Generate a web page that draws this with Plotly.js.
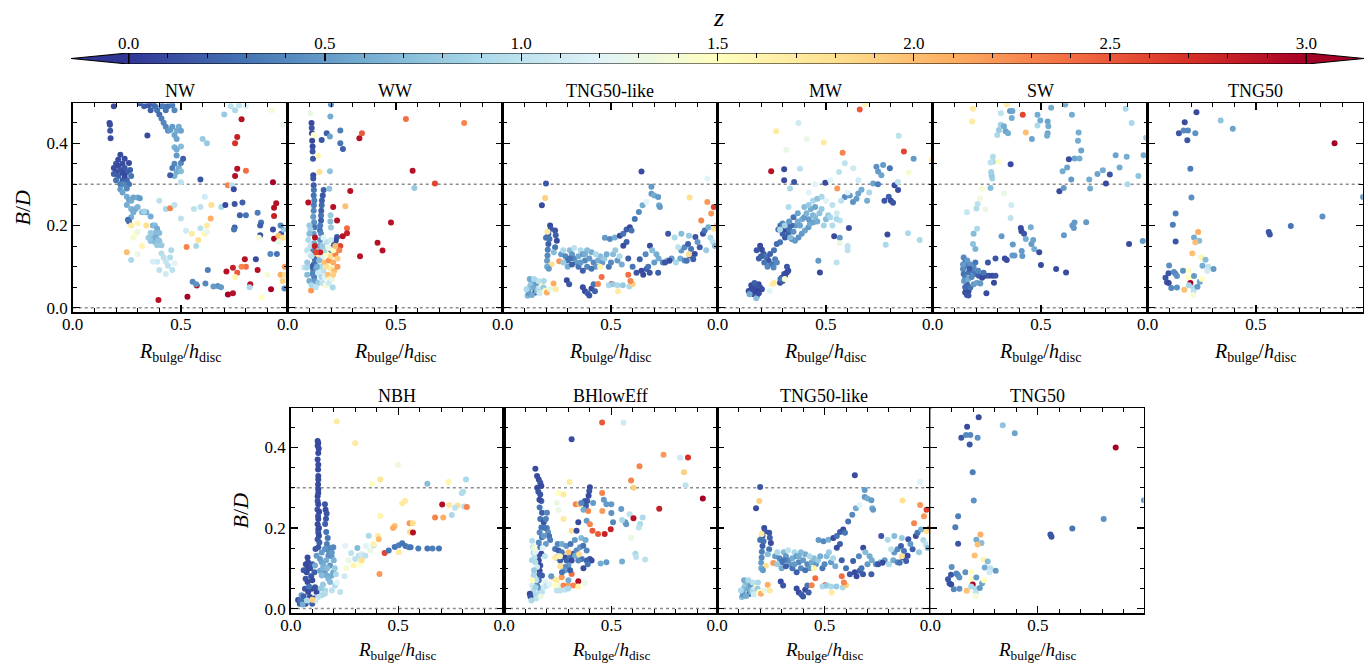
<!DOCTYPE html>
<html><head><meta charset="utf-8">
<script src="https://cdn.plot.ly/plotly-3.0.1.min.js"></script>
<style>html,body{margin:0;padding:0;background:#fff}</style>
</head><body><div id="chart" style="width:1368px;height:666px"></div>
<script>
// Each point: [R_bulge/h_disc, B/D, z]
const NW = [[0.17,0.449,0.1],[0.172,0.445,0.1],[0.173,0.43,0.15],[0.175,0.412,0.1],[0.19,0.49,0.1],
[0.19,0.34,0.1],[0.2,0.35,0.15],[0.2,0.33,0.1],[0.21,0.32,0.2],[0.21,0.36,0.1],[0.22,0.372,0.1],[0.22,0.335,0.15],[0.23,0.31,0.2],[0.23,0.35,0.1],[0.24,0.34,0.15],[0.24,0.362,0.1],[0.25,0.33,0.2],[0.25,0.31,0.25],[0.26,0.352,0.1],[0.26,0.30,0.3],[0.2,0.31,0.3],[0.22,0.30,0.35],[0.24,0.32,0.1],[0.25,0.29,0.4],[0.27,0.32,0.3],[0.21,0.345,0.1],[0.23,0.328,0.1],[0.235,0.3,0.4],[0.19,0.325,0.2],[0.265,0.335,0.2],
[0.22,0.288,0.5],[0.23,0.28,0.55],[0.25,0.27,0.6],[0.26,0.262,0.55],[0.27,0.26,0.6],[0.28,0.268,0.55],[0.3,0.268,0.6],[0.31,0.266,0.5],[0.25,0.25,0.6],[0.27,0.24,0.65],[0.28,0.232,0.6],[0.27,0.22,0.6],[0.26,0.21,0.25],[0.255,0.214,0.3],[0.29,0.24,0.6],[0.3,0.245,0.65],[0.32,0.232,0.7],[0.34,0.232,0.6],[0.36,0.222,0.6],[0.37,0.2,0.65],[0.38,0.2,0.7],[0.39,0.192,0.6],[0.38,0.182,0.7],[0.37,0.172,0.7],[0.36,0.162,0.75],[0.38,0.16,0.7],[0.39,0.152,0.8],[0.4,0.162,0.75],[0.41,0.152,0.8],[0.36,0.182,0.8],[0.4,0.182,0.7],[0.385,0.17,0.6],[0.395,0.165,0.75],[0.35,0.17,0.8],
[0.41,0.132,0.95],[0.42,0.122,1.0],[0.43,0.112,1.05],[0.44,0.102,1.0],[0.45,0.122,0.95],[0.39,0.112,1.1],[0.37,0.112,1.15],[0.4,0.092,1.0],[0.43,0.082,1.1],[0.46,0.092,1.0],[0.47,0.108,1.2],[0.455,0.14,0.9],
[0.27,0.2,1.7],[0.29,0.18,1.5],[0.3,0.185,1.3],[0.25,0.135,2.0],[0.27,0.116,0.9],[0.33,0.234,0.85],[0.3,0.205,1.6],[0.34,0.2,1.8],[0.28,0.17,1.4],[0.3,0.13,1.3],[0.32,0.15,1.6],
[0.31,0.497,0.15],[0.33,0.49,0.2],[0.35,0.492,0.15],[0.37,0.495,0.2],[0.38,0.49,0.25],[0.39,0.48,0.3],[0.4,0.47,0.25],[0.41,0.49,0.3],[0.42,0.49,0.35],[0.43,0.48,0.3],[0.41,0.46,0.35],[0.42,0.45,0.4],[0.43,0.44,0.4],[0.44,0.43,0.45],[0.45,0.432,0.5],[0.46,0.44,0.5],[0.47,0.42,0.55],[0.44,0.49,0.3],[0.46,0.492,0.35],[0.47,0.48,0.4],[0.36,0.48,0.2],
[0.48,0.43,0.6],[0.48,0.41,0.55],[0.47,0.39,0.65],[0.48,0.385,0.6],[0.5,0.392,0.7],[0.48,0.37,0.5],[0.47,0.35,0.4],[0.46,0.34,0.35],[0.48,0.33,0.6],[0.47,0.32,0.65],[0.49,0.34,0.6],[0.5,0.352,0.4],[0.51,0.362,0.2],[0.5,0.332,0.7],[0.45,0.322,0.2],[0.49,0.44,0.6],[0.5,0.43,0.55],
[0.345,0.419,0.1],[0.6,0.41,0.8],[0.62,0.40,0.8],[0.59,0.312,0.15],[0.5,0.305,1.0],
[0.4,0.26,1.0],[0.43,0.24,0.9],[0.45,0.242,2.3],[0.47,0.25,1.0],[0.5,0.217,1.0],[0.523,0.187,1.1],[0.55,0.18,1.7],[0.59,0.193,1.0],[0.58,0.165,1.8],[0.62,0.2,1.7],[0.526,0.148,2.3],[0.57,0.15,0.9],[0.686,0.245,0.9],[0.64,0.25,1.8],[0.637,0.217,2.1],[0.59,0.245,1.0],[0.61,0.27,1.1],[0.56,0.24,1.0],[0.61,0.18,1.6],[0.62,0.185,1.3],
[0.78,0.458,2.9],[0.76,0.415,2.8],[0.75,0.40,2.7],[0.76,0.338,2.9],[0.75,0.32,2.9],[0.80,0.333,2.4],[0.925,0.305,3.0],[0.94,0.254,2.9],[0.93,0.243,2.9],[0.93,0.223,2.8],[0.93,0.168,3.0],[0.396,0.019,2.9],[0.53,0.027,3.0],[0.573,0.054,2.9],[0.71,0.088,2.9],[0.74,0.097,2.8],[0.76,0.085,2.5],[0.717,0.032,3.0],[0.74,0.035,2.9],[0.795,0.118,2.9],[0.82,0.057,2.9],[0.80,0.1,2.4],[0.854,0.092,2.9],[0.916,0.045,3.0],[0.717,0.298,2.3],[0.735,0.298,1.0],
[0.744,0.288,0.1],[0.748,0.252,0.15],[0.784,0.256,0.2],[0.772,0.225,0.2],[0.80,0.225,0.3],[0.705,0.25,0.1],[0.748,0.195,0.2],[0.745,0.19,0.3],[0.854,0.231,0.35],[0.87,0.207,0.3],[0.866,0.2,0.2],[0.866,0.176,0.15],[0.925,0.19,0.1],[0.963,0.18,0.2],[0.975,0.19,0.8],[0.913,0.131,0.4],[0.943,0.131,0.3],[0.846,0.118,0.1],[0.624,0.092,0.35],[0.554,0.063,0.4],[0.57,0.057,0.45],[0.613,0.059,0.4],[0.67,0.053,0.45],[0.685,0.05,0.5],[0.65,0.052,0.5],[0.817,0.05,0.9],[0.978,0.047,0.4],[0.96,0.2,0.4],
[0.73,0.49,1.0],[0.768,0.492,1.0],[0.75,0.48,0.9],[0.70,0.47,0.8],[0.8,0.49,1.2],[0.92,0.48,1.4],[0.97,0.445,1.3],[0.99,0.5,1.1],[0.86,0.17,1.4],[0.95,0.175,2.0],[0.97,0.17,1.8],[0.96,0.08,2.1],[0.97,0.065,1.9],[0.98,0.1,2.2],[0.98,0.08,1.8],[0.78,0.1,2.3],[0.75,0.075,1.6],[0.873,0.025,1.5],[0.9,0.08,1.4],[0.95,0.16,1.3],[0.99,0.17,1.7]];

const WW = [[0.11,0.449,0.1],[0.111,0.437,0.15],[0.112,0.424,0.1],[0.113,0.406,0.1],[0.115,0.392,0.1],[0.115,0.38,0.15],[0.117,0.362,0.15],[0.118,0.322,0.1],[0.118,0.314,0.15],[0.12,0.298,0.2],[0.121,0.286,0.3],[0.12,0.273,0.3],[0.123,0.261,0.35],[0.121,0.249,0.35],[0.12,0.236,0.4],[0.118,0.221,0.5],[0.122,0.208,0.45],[0.124,0.196,0.3],[0.12,0.18,0.5],[0.122,0.157,0.6],[0.118,0.14,0.4],[0.125,0.12,0.2],[0.12,0.105,0.25],[0.118,0.09,0.3],[0.122,0.075,0.35],[0.125,0.065,0.5],[0.115,0.082,0.4],[0.113,0.1,0.2],[0.127,0.112,0.3],[0.13,0.095,0.45],
[0.105,0.473,1.3],[0.12,0.42,1.5],[0.14,0.37,1.6],[0.146,0.33,1.8],[0.1,0.2,0.8],[0.105,0.19,0.85],[0.1,0.18,0.7],[0.095,0.165,0.9],[0.09,0.14,1.0],[0.105,0.15,1.0],[0.1,0.13,1.2],[0.11,0.125,1.0],[0.09,0.11,0.8],
[0.166,0.286,0.2],[0.162,0.273,0.15],[0.158,0.261,0.2],[0.157,0.249,0.25],[0.155,0.236,0.2],[0.154,0.224,0.3],[0.154,0.212,0.2],[0.15,0.2,0.35],[0.149,0.188,0.3],[0.154,0.18,0.4],[0.15,0.165,0.5],[0.145,0.15,0.6],[0.14,0.135,0.7],
[0.157,0.408,0.15],[0.18,0.424,0.2],[0.197,0.465,0.6],[0.195,0.416,0.55],[0.2,0.494,0.45],[0.243,0.431,0.35],[0.243,0.4,0.3],[0.255,0.386,0.2],[0.195,0.332,0.75],[0.192,0.289,0.75],[0.198,0.225,0.8],[0.2,0.195,0.8],[0.197,0.21,0.7],
[0.331,0.412,2.9],[0.343,0.424,2.5],[0.546,0.459,2.4],[0.815,0.449,2.3],[0.577,0.333,2.9],[0.68,0.302,2.6],[0.585,0.291,0.8],[0.289,0.284,2.9],[0.21,0.245,2.9],[0.095,0.256,2.9],[0.266,0.247,2.0],[0.228,0.212,2.9],[0.477,0.207,2.9],[0.274,0.193,2.4],[0.274,0.181,2.8],[0.254,0.174,2.9],[0.415,0.158,2.9],[0.438,0.139,2.9],[0.334,0.125,2.9],[0.126,0.171,2.9],[0.125,0.15,2.8],[0.243,0.15,2.6],[0.238,0.14,2.3],
[0.228,0.172,0.15],[0.222,0.163,0.1],[0.215,0.155,0.15],[0.208,0.147,0.2],[0.2,0.14,0.3],
[0.14,0.13,1.7],[0.15,0.12,1.9],[0.16,0.125,1.2],[0.17,0.11,2.0],[0.18,0.13,1.5],[0.19,0.115,2.2],[0.2,0.125,1.8],[0.21,0.11,2.1],[0.22,0.13,2.3],[0.23,0.12,1.9],[0.15,0.1,0.9],[0.165,0.09,1.0],[0.18,0.1,1.8],[0.2,0.095,1.7],[0.215,0.09,2.0],[0.14,0.085,1.1],[0.155,0.075,0.9],[0.17,0.075,1.2],[0.185,0.08,2.0],[0.195,0.07,1.6],[0.14,0.06,0.8],[0.16,0.06,1.0],[0.175,0.055,1.4],[0.19,0.06,1.1],[0.205,0.07,1.3],[0.135,0.1,0.6],[0.145,0.115,0.7],[0.17,0.14,0.9],[0.19,0.145,1.3],[0.21,0.14,1.5],[0.16,0.15,0.8],[0.18,0.16,1.0],[0.165,0.17,1.2],[0.2,0.165,1.1],[0.22,0.15,2.0],[0.15,0.135,2.8],[0.13,0.135,2.6],[0.23,0.1,2.2],[0.21,0.08,1.9],
[0.108,0.042,2.2],[0.208,0.049,0.9],[0.077,0.098,1.0],[0.09,0.098,0.9],[0.09,0.08,0.7],[0.1,0.065,0.6],[0.11,0.055,0.9],[0.13,0.05,1.0]];

const TNG50LIKE = [[0.115,0.029,0.7],[0.12,0.041,0.6],[0.127,0.053,0.7],[0.132,0.061,0.8],[0.143,0.049,0.6],[0.15,0.037,0.15],[0.158,0.041,0.7],[0.166,0.045,0.9],[0.173,0.053,1.1],[0.18,0.059,1.5],[0.188,0.049,0.8],[0.196,0.041,1.5],[0.204,0.037,2.1],[0.219,0.045,1.3],[0.235,0.059,2.1],[0.245,0.045,1.7],[0.12,0.034,0.5],[0.135,0.031,0.6],[0.11,0.045,0.9],[0.14,0.065,0.7],[0.155,0.06,0.5],[0.165,0.065,1.0],[0.125,0.07,0.6],[0.145,0.07,0.9],[0.17,0.035,1.1],[0.19,0.065,0.9],
[0.219,0.2,0.1],[0.222,0.192,0.15],[0.211,0.18,0.2],[0.216,0.167,0.3],[0.211,0.155,0.2],[0.208,0.141,0.35],[0.207,0.127,0.4],[0.205,0.114,0.5],[0.242,0.188,0.15],[0.245,0.176,0.2],[0.25,0.163,0.1],[0.242,0.147,0.3],[0.236,0.135,0.7],[0.226,0.106,1.8],[0.261,0.113,2.2],[0.207,0.185,1.7],[0.2,0.17,0.3],[0.205,0.1,0.6],[0.213,0.095,0.5],
[0.2,0.302,0.15],[0.196,0.267,1.9],[0.181,0.249,0.1],
[0.27,0.13,0.5],[0.28,0.14,0.9],[0.29,0.125,0.4],[0.3,0.115,0.3],[0.31,0.14,0.7],[0.32,0.13,0.5],[0.33,0.12,0.4],[0.34,0.11,0.5],[0.35,0.125,0.6],[0.36,0.14,0.9],[0.37,0.13,0.5],[0.38,0.115,0.4],[0.39,0.1,0.4],[0.4,0.12,0.5],[0.41,0.135,0.6],[0.42,0.11,0.4],[0.43,0.1,0.5],[0.44,0.115,0.6],[0.45,0.125,0.7],[0.46,0.11,0.5],[0.47,0.12,0.8],[0.48,0.13,0.6],[0.49,0.1,0.3],[0.5,0.11,0.4],[0.51,0.13,0.7],[0.52,0.14,0.8],[0.53,0.115,0.5],[0.54,0.125,0.9],[0.55,0.105,0.6],[0.58,0.12,0.2],[0.6,0.1,0.3],[0.3,0.1,0.6],[0.33,0.145,1.0],[0.35,0.1,0.3],[0.37,0.09,0.2],[0.39,0.14,0.7],[0.43,0.13,0.9],[0.28,0.11,0.8],[0.32,0.105,0.2],[0.41,0.095,0.3],[0.45,0.1,1.6],[0.36,0.11,0.5],[0.38,0.13,0.6],[0.31,0.12,0.3],
[0.296,0.067,0.1],[0.307,0.057,0.15],[0.38,0.04,0.1],[0.392,0.035,0.2],[0.41,0.047,0.1],[0.42,0.057,0.3],[0.426,0.04,0.2],[0.37,0.05,0.1],[0.4,0.03,0.15],
[0.457,0.075,2.4],[0.44,0.058,2.3],[0.503,0.058,2.6],[0.533,0.04,1.7],[0.49,0.055,0.9],[0.51,0.057,0.8],[0.53,0.055,0.9],[0.555,0.055,0.8],[0.585,0.052,0.9],[0.6,0.058,1.9],[0.59,0.065,2.3],[0.58,0.08,2.4],
[0.472,0.17,0.5],[0.495,0.167,0.4],[0.518,0.171,0.6],[0.541,0.175,0.1],[0.557,0.18,0.3],[0.572,0.19,0.2],[0.587,0.196,0.1],[0.595,0.188,0.3],[0.572,0.16,0.2],[0.557,0.151,0.1],[0.61,0.216,0.3],[0.629,0.233,0.4],[0.646,0.249,0.6],[0.664,0.257,1.2],[0.687,0.277,0.5],[0.7,0.273,0.6],[0.718,0.269,0.5],[0.722,0.249,0.6],[0.726,0.245,0.5],[0.687,0.294,0.5],[0.641,0.331,0.1],
[0.618,0.085,0.15],[0.641,0.09,0.1],[0.664,0.094,0.2],[0.679,0.085,0.15],[0.649,0.08,0.1],[0.672,0.1,0.3],[0.633,0.118,0.2],[0.718,0.085,0.2],[0.7,0.11,0.5],[0.72,0.12,0.6],[0.74,0.11,0.4],[0.76,0.115,0.7],[0.78,0.12,0.5],[0.68,0.151,0.1],[0.77,0.114,0.1],[0.75,0.11,0.15],[0.8,0.11,0.9],[0.82,0.12,0.6],[0.84,0.115,0.4],[0.66,0.13,0.4],[0.69,0.14,0.7],[0.71,0.13,0.6],
[0.825,0.139,0.5],[0.84,0.147,0.4],[0.856,0.155,0.2],[0.87,0.143,0.3],[0.887,0.131,0.1],[0.88,0.118,0.2],[0.864,0.127,0.15],[0.85,0.114,0.3],[0.91,0.147,0.2],[0.925,0.18,0.1],[0.89,0.172,0.15],[0.933,0.188,0.3],[0.95,0.196,0.6],[0.96,0.17,0.9],[0.97,0.16,1.0],[0.98,0.15,0.7],[0.94,0.14,0.8],[0.9,0.16,0.5],[0.86,0.13,1.8],
[0.794,0.171,0.9],[0.825,0.18,0.7],[0.764,0.18,0.15],[0.81,0.147,1.0],[0.86,0.175,0.8],
[0.863,0.268,1.8],[0.945,0.257,2.2],[0.917,0.212,2.3],[0.963,0.229,2.2],[0.975,0.245,2.6],[0.945,0.314,1.2],[0.975,0.192,1.8],[0.99,0.2,2.0]];

const MW = [[0.143,0.041,0.1],[0.158,0.049,0.1],[0.173,0.053,0.15],[0.189,0.057,0.1],[0.196,0.049,0.15],[0.166,0.033,0.1],[0.181,0.029,0.15],[0.15,0.037,0.2],[0.204,0.045,0.1],[0.18,0.041,0.05],[0.163,0.045,0.1],[0.147,0.033,0.6],[0.178,0.023,0.7],[0.155,0.055,0.1],[0.17,0.06,0.2],[0.19,0.035,0.1],
[0.25,0.057,1.6],[0.24,0.041,1.2],[0.26,0.06,1.7],
[0.288,0.061,0.1],[0.296,0.073,0.1],[0.307,0.082,0.15],[0.319,0.086,0.1],[0.326,0.09,0.1],[0.3,0.065,0.2],[0.311,0.078,0.1],[0.32,0.1,0.15],[0.29,0.07,0.3],
[0.196,0.151,0.1],[0.204,0.141,0.1],[0.212,0.131,0.15],[0.227,0.122,0.2],[0.235,0.114,0.15],[0.25,0.106,0.3],[0.258,0.098,0.4],[0.219,0.125,0.3],[0.242,0.131,0.2],[0.265,0.118,0.35],[0.273,0.11,0.4],[0.2,0.125,0.2],[0.215,0.11,0.3],[0.23,0.1,0.4],[0.26,0.14,0.3],[0.18,0.14,0.15],[0.19,0.12,0.2],
[0.273,0.155,0.25],[0.288,0.159,0.3],[0.311,0.171,0.15],[0.326,0.18,0.2],[0.342,0.167,0.4],[0.357,0.163,0.5],[0.373,0.171,0.45],[0.388,0.18,0.5],[0.403,0.188,0.55],[0.419,0.196,0.5],[0.426,0.204,0.6],[0.442,0.208,0.55],[0.3,0.18,0.2],[0.31,0.19,0.1],[0.32,0.2,0.15],[0.33,0.19,0.3],[0.35,0.185,0.45],[0.36,0.2,0.5],[0.37,0.21,0.6],[0.38,0.2,0.55],[0.39,0.215,0.6],[0.4,0.22,0.5],[0.41,0.23,0.65],[0.42,0.215,0.5],[0.43,0.24,0.6],[0.44,0.225,0.65],[0.45,0.22,0.7],[0.46,0.21,0.6],[0.47,0.23,0.75],[0.48,0.24,0.8],[0.49,0.2,0.85],[0.5,0.215,0.7],[0.51,0.225,0.8],[0.52,0.22,0.9],[0.53,0.2,0.95],[0.35,0.22,0.3],[0.34,0.2,0.25],[0.28,0.19,0.3],[0.29,0.2,0.2],[0.3,0.205,0.4],[0.33,0.21,0.5],[0.37,0.23,0.55],[0.4,0.245,0.7],[0.42,0.25,0.8],[0.44,0.26,0.9],[0.45,0.245,0.55],[0.46,0.265,0.75],
[0.288,0.19,0.9],[0.31,0.2,0.85],[0.335,0.171,0.7],
[0.564,0.212,1.0],[0.549,0.216,0.9],[0.587,0.269,0.4],[0.61,0.273,0.5],[0.625,0.257,0.45],[0.641,0.265,0.5],[0.649,0.278,0.55],[0.664,0.287,0.6],[0.718,0.302,0.55],[0.733,0.343,0.45],[0.741,0.331,0.5],[0.756,0.322,0.55],[0.764,0.347,0.5],[0.77,0.26,0.15],[0.79,0.27,0.2],[0.8,0.26,0.1],[0.81,0.255,0.15],[0.817,0.298,0.1],[0.833,0.286,0.1],[0.795,0.339,0.3],[0.57,0.26,1.0],[0.6,0.28,1.2],[0.7,0.28,0.9],[0.69,0.26,0.6],[0.74,0.3,0.35],[0.55,0.23,1.1],[0.53,0.25,1.0],[0.5,0.26,1.2],[0.48,0.27,0.9],
[0.373,0.449,1.1],[0.317,0.384,1.3],[0.411,0.41,1.3],[0.27,0.429,1.7],[0.49,0.402,1.7],[0.577,0.377,2.3],[0.656,0.482,2.5],[0.86,0.38,2.6],[0.247,0.332,2.9],[0.307,0.337,0.1],[0.307,0.31,0.1],[0.353,0.306,0.15],[0.497,0.304,0.1],[0.552,0.29,2.2],[0.38,0.338,1.0],[0.334,0.29,0.9],[0.327,0.245,0.95],[0.587,0.351,1.0],[0.626,0.339,1.1],[0.905,0.362,0.5],[0.836,0.418,1.0],[0.882,0.329,1.4],[0.832,0.306,1.0],[0.45,0.3,1.2],[0.52,0.31,1.2],[0.56,0.33,1.0],[0.65,0.31,1.1],[0.42,0.28,1.2],[0.99,0.36,1.7],[0.68,0.495,1.6],
[0.606,0.194,0.1],[0.784,0.178,0.1],[0.776,0.153,0.9],[0.879,0.181,0.9],[0.933,0.165,0.9],[0.6,0.14,1.0],[0.549,0.11,1.0],[0.465,0.114,0.5],[0.472,0.086,0.1],[0.538,0.174,0.1],[0.564,0.17,0.5],[0.564,0.157,1.3],[0.6,0.15,1.0],[0.31,0.07,1.4]];

const SW = [[0.143,0.122,0.4],[0.15,0.11,0.3],[0.158,0.102,0.35],[0.14,0.094,0.4],[0.143,0.082,0.3],[0.15,0.073,0.35],[0.166,0.086,0.3],[0.182,0.09,0.35],[0.197,0.082,0.3],[0.213,0.078,0.2],[0.228,0.073,0.1],[0.244,0.078,0.1],[0.259,0.078,0.15],[0.275,0.078,0.1],[0.29,0.078,0.15],[0.283,0.061,0.1],[0.158,0.057,0.2],[0.155,0.045,0.1],[0.15,0.037,0.1],[0.158,0.031,0.15],[0.166,0.041,0.1],[0.174,0.049,0.3],[0.189,0.057,0.5],[0.205,0.061,0.55],[0.22,0.059,0.5],[0.248,0.035,0.1],[0.197,0.110,0.3],[0.189,0.098,0.4],[0.255,0.11,0.15],[0.29,0.12,0.15],[0.342,0.116,0.1],[0.16,0.115,0.5],[0.175,0.105,0.45],[0.17,0.095,0.2],[0.21,0.09,0.4],[0.235,0.085,0.3],[0.145,0.065,0.5],[0.165,0.07,0.6],[0.18,0.075,0.4],[0.14,0.105,0.5],[0.15,0.05,0.25],[0.165,0.03,0.15],
[0.189,0.18,0.7],[0.186,0.155,0.75],[0.197,0.143,0.65],[0.205,0.192,0.9],[0.208,0.253,1.0],[0.202,0.241,0.95],[0.158,0.232,1.05],[0.244,0.239,1.3],[0.218,0.265,1.35],[0.228,0.29,1.4],[0.267,0.291,0.7],[0.275,0.314,0.85],[0.272,0.322,0.8],[0.27,0.33,0.85],[0.278,0.355,0.9],[0.278,0.367,0.95],[0.267,0.353,1.0],[0.306,0.355,1.5],[0.329,0.278,1.3],[0.363,0.25,1.1],[0.36,0.218,1.0],
[0.298,0.42,0.9],[0.306,0.432,0.8],[0.314,0.445,0.85],[0.329,0.441,0.6],[0.337,0.429,0.55],[0.348,0.424,0.6],[0.357,0.478,0.5],[0.365,0.461,0.6],[0.368,0.478,0.55],[0.315,0.473,1.0],[0.186,0.484,1.7],[0.182,0.453,1.7],[0.342,0.494,1.7],[0.416,0.469,2.6],[0.43,0.426,2.0],[0.458,0.41,0.55],[0.484,0.469,0.6],[0.497,0.455,0.6],[0.484,0.443,0.9],[0.531,0.453,0.55],[0.534,0.441,0.6],[0.531,0.424,0.55],[0.528,0.418,0.6],[0.547,0.486,0.6],[0.612,0.494,0.6],[0.643,0.469,0.6],[0.674,0.426,0.6],[0.671,0.406,0.6],[0.686,0.382,0.55],[0.655,0.363,0.55],[0.678,0.363,0.6],[0.629,0.361,0.1],[0.6,0.332,0.6],[0.621,0.341,0.55],[0.64,0.312,0.5],[0.585,0.283,0.1],[0.605,0.291,0.5],[0.723,0.312,0.6],[0.727,0.29,0.6],[0.761,0.325,0.55],[0.786,0.334,0.6],[0.818,0.324,0.15],[0.8,0.302,0.1],[0.845,0.371,0.55],[0.863,0.341,0.6],[0.896,0.367,0.6],[0.95,0.32,0.75],[0.974,0.371,0.6],[0.986,0.413,0.8],[0.919,0.449,0.9],[0.891,0.484,0.9],[0.9,0.3,0.9],
[0.36,0.349,0.1],[0.407,0.194,0.1],[0.41,0.186,0.1],[0.422,0.18,0.15],[0.43,0.167,0.6],[0.453,0.196,0.6],[0.456,0.155,0.5],[0.464,0.165,0.55],[0.469,0.143,0.6],[0.492,0.135,0.1],[0.5,0.104,0.1],[0.57,0.094,0.1],[0.616,0.086,0.1],[0.606,0.176,0.5],[0.645,0.2,0.5],[0.655,0.207,0.5],[0.652,0.194,0.5],[0.709,0.208,0.5],[0.907,0.155,0.1],[0.97,0.162,0.5],[0.37,0.154,0.5],[0.318,0.174,0.5],[0.368,0.127,0.5],[0.378,0.127,0.5],[0.411,0.138,0.5],[0.414,0.126,0.5],[0.333,0.12,0.1]];

const TNG50 = [[0.225,0.475,0.1],[0.171,0.451,0.1],[0.144,0.424,0.15],[0.166,0.431,0.4],[0.186,0.431,0.4],[0.22,0.424,0.45],[0.183,0.407,0.15],[0.197,0.338,0.35],[0.202,0.268,0.45],[0.129,0.229,0.35],[0.116,0.202,0.35],[0.129,0.161,0.15],[0.337,0.455,0.75],[0.393,0.435,0.55],[0.863,0.4,3.0],[0.995,0.269,0.45],[0.807,0.222,0.45],[0.661,0.199,0.3],[0.559,0.184,0.15],[0.564,0.178,0.15],[0.233,0.184,2.1],[0.214,0.171,0.6],[0.238,0.163,0.7],[0.22,0.159,2.0],[0.206,0.132,2.0],[0.248,0.122,1.6],[0.267,0.117,0.7],[0.253,0.102,0.6],[0.28,0.1,1.0],[0.275,0.09,1.1],[0.304,0.094,0.5],[0.099,0.103,0.45],[0.096,0.084,0.15],[0.121,0.087,0.4],[0.128,0.083,0.4],[0.135,0.077,0.45],[0.163,0.09,0.45],[0.082,0.073,0.15],[0.089,0.062,0.15],[0.097,0.06,0.1],[0.109,0.048,0.4],[0.135,0.049,0.45],[0.169,0.044,2.0],[0.19,0.09,1.5],[0.19,0.073,1.5],[0.197,0.06,3.0],[0.214,0.077,0.5],[0.211,0.049,0.9],[0.212,0.04,1.0],[0.211,0.031,1.4],[0.23,0.051,0.5],[0.241,0.063,0.55],[0.25,0.07,1.5],[0.19,0.055,0.9]];

const NBH = [[0.125,0.416,0.1],[0.128,0.411,0.1],[0.125,0.404,0.1],[0.13,0.397,0.1],[0.128,0.386,0.1],[0.125,0.37,0.1],[0.128,0.357,0.1],[0.127,0.345,0.1],[0.128,0.329,0.1],[0.128,0.32,0.1],[0.127,0.308,0.1],[0.128,0.296,0.1],[0.128,0.287,0.1],[0.125,0.279,0.1],[0.125,0.267,0.15],[0.128,0.259,0.1],[0.124,0.246,0.15],[0.127,0.23,0.15],[0.128,0.222,0.1],[0.125,0.209,0.1],[0.128,0.197,0.15],[0.128,0.189,0.15],[0.131,0.181,0.1],[0.125,0.172,0.15],[0.133,0.164,0.2],[0.128,0.152,0.15],[0.132,0.24,0.1],[0.131,0.2,0.1],[0.115,0.148,0.15],
[0.159,0.259,0.15],[0.162,0.245,0.1],[0.167,0.236,0.15],[0.164,0.223,0.15],[0.16,0.21,0.2],[0.165,0.19,0.3],[0.172,0.175,0.3],[0.168,0.16,0.35],[0.175,0.145,0.4],[0.18,0.135,0.45],[0.185,0.15,0.4],[0.19,0.13,0.5],
[0.078,0.127,0.1],[0.08,0.115,0.1],[0.078,0.102,0.1],[0.074,0.09,0.1],[0.069,0.074,0.15],[0.078,0.066,0.1],[0.066,0.049,0.15],[0.081,0.041,0.1],[0.097,0.049,0.1],[0.113,0.053,0.15],[0.12,0.041,0.1],[0.109,0.025,0.1],[0.034,0.021,0.1],[0.042,0.012,0.15],[0.058,0.015,0.1],[0.069,0.012,0.1],[0.089,0.029,0.1],[0.1,0.012,0.2],[0.05,0.033,0.5],[0.09,0.1,0.1],[0.095,0.08,0.15],[0.085,0.055,0.3],[0.06,0.03,0.2],[0.1,0.07,0.1],[0.11,0.09,0.2],[0.1,0.11,0.15],[0.07,0.11,0.1],[0.06,0.095,0.15],[0.045,0.02,0.3],[0.055,0.01,0.6],[0.075,0.02,0.9],
[0.136,0.123,0.5],[0.144,0.115,0.55],[0.152,0.107,0.6],[0.159,0.094,0.5],[0.167,0.082,0.6],[0.175,0.074,0.65],[0.183,0.066,0.7],[0.191,0.082,0.6],[0.198,0.09,0.55],[0.183,0.107,0.5],[0.175,0.131,0.45],[0.191,0.139,0.5],[0.198,0.152,0.4],[0.159,0.148,0.45],[0.144,0.139,0.5],[0.12,0.131,0.5],[0.113,0.107,0.6],[0.136,0.094,0.55],[0.144,0.082,0.7],[0.15,0.1,0.65],[0.165,0.12,0.6],[0.17,0.1,0.7],[0.2,0.12,0.65],[0.205,0.1,0.8],[0.21,0.085,0.9],[0.15,0.06,0.8],[0.16,0.045,0.9],[0.14,0.05,0.8],
[0.206,0.057,0.95],[0.191,0.045,1.0],[0.159,0.037,0.95],[0.144,0.033,0.9],[0.128,0.029,1.0],[0.23,0.041,1.0],[0.215,0.065,1.2],[0.115,0.02,1.1],[0.1,0.022,1.9],
[0.253,0.156,1.2],[0.281,0.138,1.0],[0.3,0.123,1.0],[0.316,0.131,1.0],[0.331,0.135,1.1],[0.347,0.131,1.0],[0.292,0.107,1.6],[0.323,0.111,1.5],[0.27,0.12,1.3],[0.26,0.1,1.4],[0.25,0.08,1.1],[0.386,0.157,1.0],[0.363,0.181,0.9],[0.406,0.18,1.7],[0.41,0.172,2.0],[0.386,0.16,1.6],[0.37,0.145,1.3],[0.35,0.155,1.2],[0.33,0.12,1.8],[0.31,0.15,0.7],
[0.214,0.464,1.7],[0.3,0.41,1.7],[0.5,0.357,1.35],[0.378,0.31,1.5],[0.417,0.32,1.75],[0.417,0.23,1.6],[0.519,0.261,1.7],[0.532,0.267,1.7],[0.484,0.205,2.0],[0.476,0.2,2.1],[0.553,0.212,2.2],[0.568,0.212,1.8],[0.555,0.19,1.8],[0.569,0.189,2.9],[0.413,0.086,2.2],[0.437,0.138,2.6],[0.503,0.14,1.7],
[0.456,0.144,0.3],[0.484,0.153,0.3],[0.503,0.157,0.35],[0.519,0.162,0.3],[0.534,0.155,0.3],[0.55,0.152,0.35],[0.558,0.152,0.3],[0.594,0.149,0.35],[0.636,0.149,0.3],[0.66,0.149,0.35],[0.69,0.149,0.3],
[0.636,0.31,0.7],[0.738,0.257,1.7],[0.705,0.258,2.9],[0.777,0.256,1.8],[0.808,0.253,0.95],[0.82,0.252,2.3],[0.672,0.226,2.3],[0.71,0.226,2.1],[0.75,0.232,0.9],[0.816,0.32,0.9],[0.797,0.287,0.9],[0.803,0.29,0.95],[0.734,0.314,1.6],[0.765,0.25,1.0]];

const BHLOWEFF = [[0.146,0.347,0.1],[0.154,0.329,0.1],[0.162,0.32,0.1],[0.169,0.312,0.15],[0.174,0.304,0.1],[0.169,0.283,0.15],[0.174,0.267,0.2],[0.166,0.251,0.3],[0.177,0.238,0.2],[0.169,0.222,0.3],[0.185,0.214,0.15],[0.174,0.201,0.3],[0.166,0.189,0.4],[0.177,0.177,0.3],[0.162,0.164,0.4],[0.169,0.152,0.35],[0.174,0.136,0.1],[0.162,0.119,0.1],[0.169,0.107,0.15],[0.166,0.094,0.1],[0.177,0.082,0.2],[0.162,0.07,0.3],[0.154,0.057,0.4],[0.169,0.049,0.5],[0.155,0.3,0.1],[0.16,0.29,0.15],[0.165,0.27,0.1],[0.158,0.13,0.15],[0.16,0.11,0.1],[0.165,0.085,0.2],
[0.2,0.238,0.4],[0.195,0.222,0.35],[0.2,0.2,0.4],[0.205,0.19,0.45],[0.21,0.18,0.3],[0.215,0.17,0.35],[0.195,0.16,0.5],[0.19,0.2,0.3],[0.185,0.18,0.5],
[0.131,0.168,0.95],[0.135,0.152,1.0],[0.138,0.139,0.9],[0.142,0.127,1.0],[0.146,0.115,0.95],[0.154,0.103,1.1],[0.138,0.082,0.9],[0.15,0.07,1.0],[0.131,0.057,1.1],[0.138,0.045,0.95],[0.142,0.033,0.9],[0.15,0.025,1.0],[0.162,0.037,0.95],[0.177,0.041,1.0],[0.185,0.053,1.1],[0.192,0.066,1.2],[0.2,0.057,1.0],[0.146,0.053,0.85],[0.12,0.037,0.1],[0.123,0.03,0.15],[0.128,0.02,0.9],[0.14,0.095,0.8],[0.145,0.14,1.2],[0.13,0.12,0.9],[0.18,0.15,1.2],[0.19,0.13,1.0],[0.17,0.03,1.3],[0.13,0.07,1.5],[0.14,0.15,1.4],
[0.246,0.262,1.3],[0.254,0.245,1.3],[0.254,0.287,1.5],[0.277,0.283,1.7],[0.305,0.314,1.7],[0.334,0.259,2.3],[0.351,0.259,2.0],[0.277,0.222,1.7],[0.315,0.193,1.8],[0.346,0.214,0.1],[0.338,0.193,0.1],[0.385,0.218,0.5],[0.392,0.242,2.3],[0.4,0.209,2.3],[0.412,0.193,2.5],[0.438,0.185,2.5],[0.469,0.185,2.8],[0.497,0.197,2.8],[0.508,0.214,0.4],[0.458,0.242,2.2],[0.465,0.27,0.5],[0.477,0.259,0.5],[0.5,0.259,0.5],[0.546,0.247,0.5],[0.5,0.237,0.45],[0.565,0.214,0.5],[0.569,0.209,0.5],[0.585,0.234,1.0],[0.603,0.224,2.9],[0.646,0.226,0.9],[0.634,0.21,0.9],[0.628,0.201,1.0],[0.592,0.175,1.3],[0.612,0.136,0.9],[0.615,0.128,1.0],[0.657,0.122,1.0],[0.55,0.117,0.6],[0.477,0.115,0.5],[0.45,0.112,0.6],[0.723,0.248,2.8],[0.926,0.273,3.0],[0.857,0.375,2.7],[0.82,0.374,1.1],[0.838,0.338,1.9],[0.846,0.306,1.0],[0.743,0.382,2.2],[0.631,0.353,2.3],[0.592,0.318,2.3],[0.603,0.3,1.9],[0.457,0.287,2.3],[0.457,0.462,2.5],[0.557,0.461,1.1],[0.315,0.42,0.1],[0.55,0.22,0.9],
[0.4,0.301,0.1],[0.397,0.292,0.15],[0.394,0.28,0.1],[0.388,0.267,0.2],[0.382,0.255,0.2],[0.415,0.262,0.5],[0.377,0.267,0.15],[0.36,0.262,0.4],[0.37,0.245,0.6],
[0.238,0.148,0.3],[0.254,0.144,0.2],[0.269,0.14,0.3],[0.285,0.127,0.1],[0.292,0.119,0.2],[0.308,0.127,0.3],[0.323,0.136,0.15],[0.338,0.144,0.4],[0.354,0.152,0.5],[0.369,0.156,0.3],[0.385,0.144,0.4],[0.4,0.123,0.15],[0.408,0.119,0.1],[0.385,0.119,0.2],[0.362,0.123,0.3],[0.346,0.119,0.4],[0.331,0.131,0.6],[0.315,0.119,0.1],[0.3,0.107,0.5],[0.285,0.103,0.4],[0.262,0.119,0.2],[0.246,0.127,0.3],[0.238,0.127,1.7],[0.262,0.105,1.8],[0.315,0.086,2.4],[0.285,0.095,0.5],[0.308,0.095,0.2],[0.25,0.16,0.4],[0.27,0.16,0.6],[0.29,0.155,0.5],[0.31,0.16,0.3],[0.33,0.17,0.5],[0.36,0.175,0.7],[0.38,0.17,0.6],[0.26,0.13,1.6],[0.3,0.14,2.0],[0.35,0.135,1.8],[0.37,0.1,0.1],[0.39,0.11,0.3],
[0.246,0.07,1.7],[0.269,0.078,2.2],[0.23,0.074,1.7],[0.238,0.057,1.5],[0.262,0.057,1.3],[0.277,0.057,2.3],[0.3,0.057,2.2],[0.323,0.057,2.3],[0.346,0.068,2.9],[0.346,0.055,1.6],[0.377,0.063,1.3],[0.246,0.045,1.0],[0.262,0.045,1.0],[0.285,0.047,1.0],[0.3,0.05,0.9],[0.21,0.06,1.2],[0.22,0.08,0.5],[0.27,0.09,0.3],[0.3,0.07,0.6]];

const panelTitles = ['NW','WW','TNG50-like','MW','SW','TNG50','NBH','BHlowEff','TNG50-like','TNG50'];
const panelData = [NW, WW, TNG50LIKE, MW, SW, TNG50, NBH, BHLOWEFF, TNG50LIKE, TNG50];
const xTickVals = [0, 0.5];
const xMinorVals = [0.1,0.2,0.3,0.4,0.6,0.7,0.8,0.9];
const yTickVals = [0, 0.2, 0.4];
const yMinorVals = [0.05,0.1,0.15,0.25,0.3,0.35,0.45];
const refLines = [0.0, 0.3];
const zTicks = [0, 0.5, 1.0, 1.5, 2.0, 2.5, 3.0];
const zMinorVals = [0.1,0.2,0.3,0.4,0.6,0.7,0.8,0.9,1.1,1.2,1.3,1.4,1.6,1.7,1.8,1.9,2.1,2.2,2.3,2.4,2.6,2.7,2.8,2.9];

const RdYlBu_r = [[0,'#313695'],[0.1,'#4575b4'],[0.2,'#74add1'],[0.3,'#abd9e9'],[0.4,'#e0f3f8'],[0.5,'#ffffbf'],[0.6,'#fee090'],[0.7,'#fdae61'],[0.8,'#f46d43'],[0.9,'#d73027'],[1,'#a50026']];

const W = 1368, H = 666;
const FONT = 'Liberation Serif, DejaVu Serif, serif';
// pixel geometry of panels
const row1 = {left: 72.7, w: 215.0, top: 103.3, bottom: 312.3, n: 6, labelY: 352, labelSize: 20};
const row2 = {left: 290.8, w: 213.2, top: 408.3, bottom: 613.0, n: 4, labelY: 651, labelSize: 19};
function fx(p){ return p / W; }
function fy(p){ return 1 - p / H; }

const traces = [];
const layout = {
  width: W, height: H, margin: {l:0, r:0, t:0, b:0},
  paper_bgcolor: '#fff', plot_bgcolor: '#fff', showlegend: false,
  font: {family: FONT, color: '#000', size: 16},
  shapes: [], annotations: []
};

panelData.forEach((d, i) => {
  const k = i + 1;
  const row = i < 6 ? row1 : row2;
  const col = i < 6 ? i : i - 6;
  const x0 = row.left + col * row.w, x1 = x0 + row.w;
  const xa = 'xaxis' + (k === 1 ? '' : k), ya = 'yaxis' + (k === 1 ? '' : k);
  const xr = 'x' + (k === 1 ? '' : k), yr = 'y' + (k === 1 ? '' : k);
  traces.push({
    type: 'scatter', mode: 'markers', xaxis: xr, yaxis: yr,
    x: d.map(p => p[0]), y: d.map(p => p[1]),
    marker: {color: d.map(p => p[2]), colorscale: RdYlBu_r, cmin: 0, cmax: 3, size: 6, line: {width: 0}, showscale: false},
    hoverinfo: 'skip'
  });
  layout[xa] = {
    domain: [fx(x0), fx(x1)], range: [0, 0.993], anchor: yr,
    showline: true, mirror: 'allticks', linecolor: '#000', linewidth: 1.6,
    ticks: 'inside', ticklen: 7, tickwidth: 1.2, tickcolor: '#000',
    tickmode: 'array', tickvals: xTickVals, ticktext: xTickVals.map(v => v.toFixed(1)),
    minor: {tickmode: 'array', tickvals: xMinorVals, ticks: 'inside', ticklen: 4, tickwidth: 1, tickcolor: '#000', showgrid: false},
    ticklabelstandoff: -4,
    showgrid: false, zeroline: false, fixedrange: true,
    tickfont: {family: FONT, size: 17, color: '#000'}
  };
  layout[ya] = {
    domain: [fy(row.bottom), fy(row.top)], range: [-0.011, 0.497], anchor: xr,
    showline: true, mirror: 'allticks', linecolor: '#000', linewidth: 1.6,
    ticks: 'inside', ticklen: 7, tickwidth: 1.2, tickcolor: '#000',
    tickmode: 'array', tickvals: yTickVals, ticktext: yTickVals.map(v => v.toFixed(1)),
    minor: {tickmode: 'array', tickvals: yMinorVals, ticks: 'inside', ticklen: 4, tickwidth: 1, tickcolor: '#000', showgrid: false},
    showticklabels: (k === 1 || k === 7),
    showgrid: false, zeroline: false, fixedrange: true,
    tickfont: {family: FONT, size: 17, color: '#000'}
  };
  refLines.forEach(v => layout.shapes.push({
    type: 'line', xref: xr + ' domain', yref: yr, x0: 0, x1: 1, y0: v, y1: v,
    line: {color: '#8c8c8c', width: 1.5, dash: 'dot'}, layer: 'below'
  }));
  layout.annotations.push({
    text: panelTitles[i], xref: 'paper', yref: 'paper', x: fx((x0 + x1) / 2), y: fy(row.top - 12),
    xanchor: 'center', yanchor: 'middle', showarrow: false, font: {family: FONT, size: 18, color: '#000'}
  });
  layout.annotations.push({
    text: '<i>R</i><sub>bulge</sub>/<i>h</i><sub>disc</sub>', xref: 'paper', yref: 'paper',
    x: fx((x0 + x1) / 2), y: fy(row.labelY), xanchor: 'center', yanchor: 'middle', showarrow: false,
    font: {family: FONT, size: row.labelSize, color: '#000'}
  });
  if (k === 1 || k === 7) {
    layout.annotations.push({
      text: '<i>B</i>/<i>D</i>', xref: 'paper', yref: 'paper', x: fx(x0 - 50), y: fy((row.top + row.bottom) / 2),
      xanchor: 'center', yanchor: 'middle', textangle: -90, showarrow: false,
      font: {family: FONT, size: 22, color: '#000'}
    });
  }
});

// colour bar drawn on its own axis (x = z)
const zMin = zTicks[0], zMax = zTicks[zTicks.length - 1];
const ext = 0.147;
traces.push({
  type: 'scatter', mode: 'lines', xaxis: 'x11', yaxis: 'y11',
  x: [zMin, zMax, zMax, zMin, zMin], y: [0, 0, 1, 1, 0], fill: 'toself',
  fillgradient: {type: 'horizontal', colorscale: RdYlBu_r},
  line: {color: '#000', width: 1.2}, hoverinfo: 'skip'
});
traces.push({
  type: 'scatter', mode: 'lines', xaxis: 'x11', yaxis: 'y11',
  x: [zMin, zMin - ext, zMin, zMin], y: [0, 0.5, 1, 0], fill: 'toself', fillcolor: RdYlBu_r[0][1],
  line: {color: '#000', width: 1.2}, hoverinfo: 'skip'
});
traces.push({
  type: 'scatter', mode: 'lines', xaxis: 'x11', yaxis: 'y11',
  x: [zMax, zMax + ext, zMax, zMax], y: [0, 0.5, 1, 0], fill: 'toself', fillcolor: RdYlBu_r[RdYlBu_r.length - 1][1],
  line: {color: '#000', width: 1.2}, hoverinfo: 'skip'
});
layout.xaxis11 = {
  domain: [fx(71), fx(1364)], range: [zMin - ext, zMax + ext], anchor: 'y11', side: 'top',
  showline: false, showgrid: false, zeroline: false, fixedrange: true,
  ticks: 'inside', ticklen: 8, tickwidth: 1.2, tickcolor: '#000',
  tickmode: 'array', tickvals: zTicks, ticktext: zTicks.map(v => v.toFixed(1)),
  minor: {tickmode: 'array', tickvals: zMinorVals, ticks: 'inside', ticklen: 5, tickwidth: 1, tickcolor: '#000', showgrid: false},
  tickfont: {family: FONT, size: 17, color: '#000'}
};
layout.yaxis11 = {domain: [fy(64), fy(53)], range: [0, 1], anchor: 'x11', visible: false, fixedrange: true};
layout.annotations.push({
  text: '<i>z</i>', xref: 'paper', yref: 'paper', x: fx(718), y: fy(18), xanchor: 'center', yanchor: 'middle',
  showarrow: false, font: {family: FONT, size: 26, color: '#000'}
});

Plotly.newPlot('chart', traces, layout, {staticPlot: true, displayModeBar: false});
</script>
</body></html>
